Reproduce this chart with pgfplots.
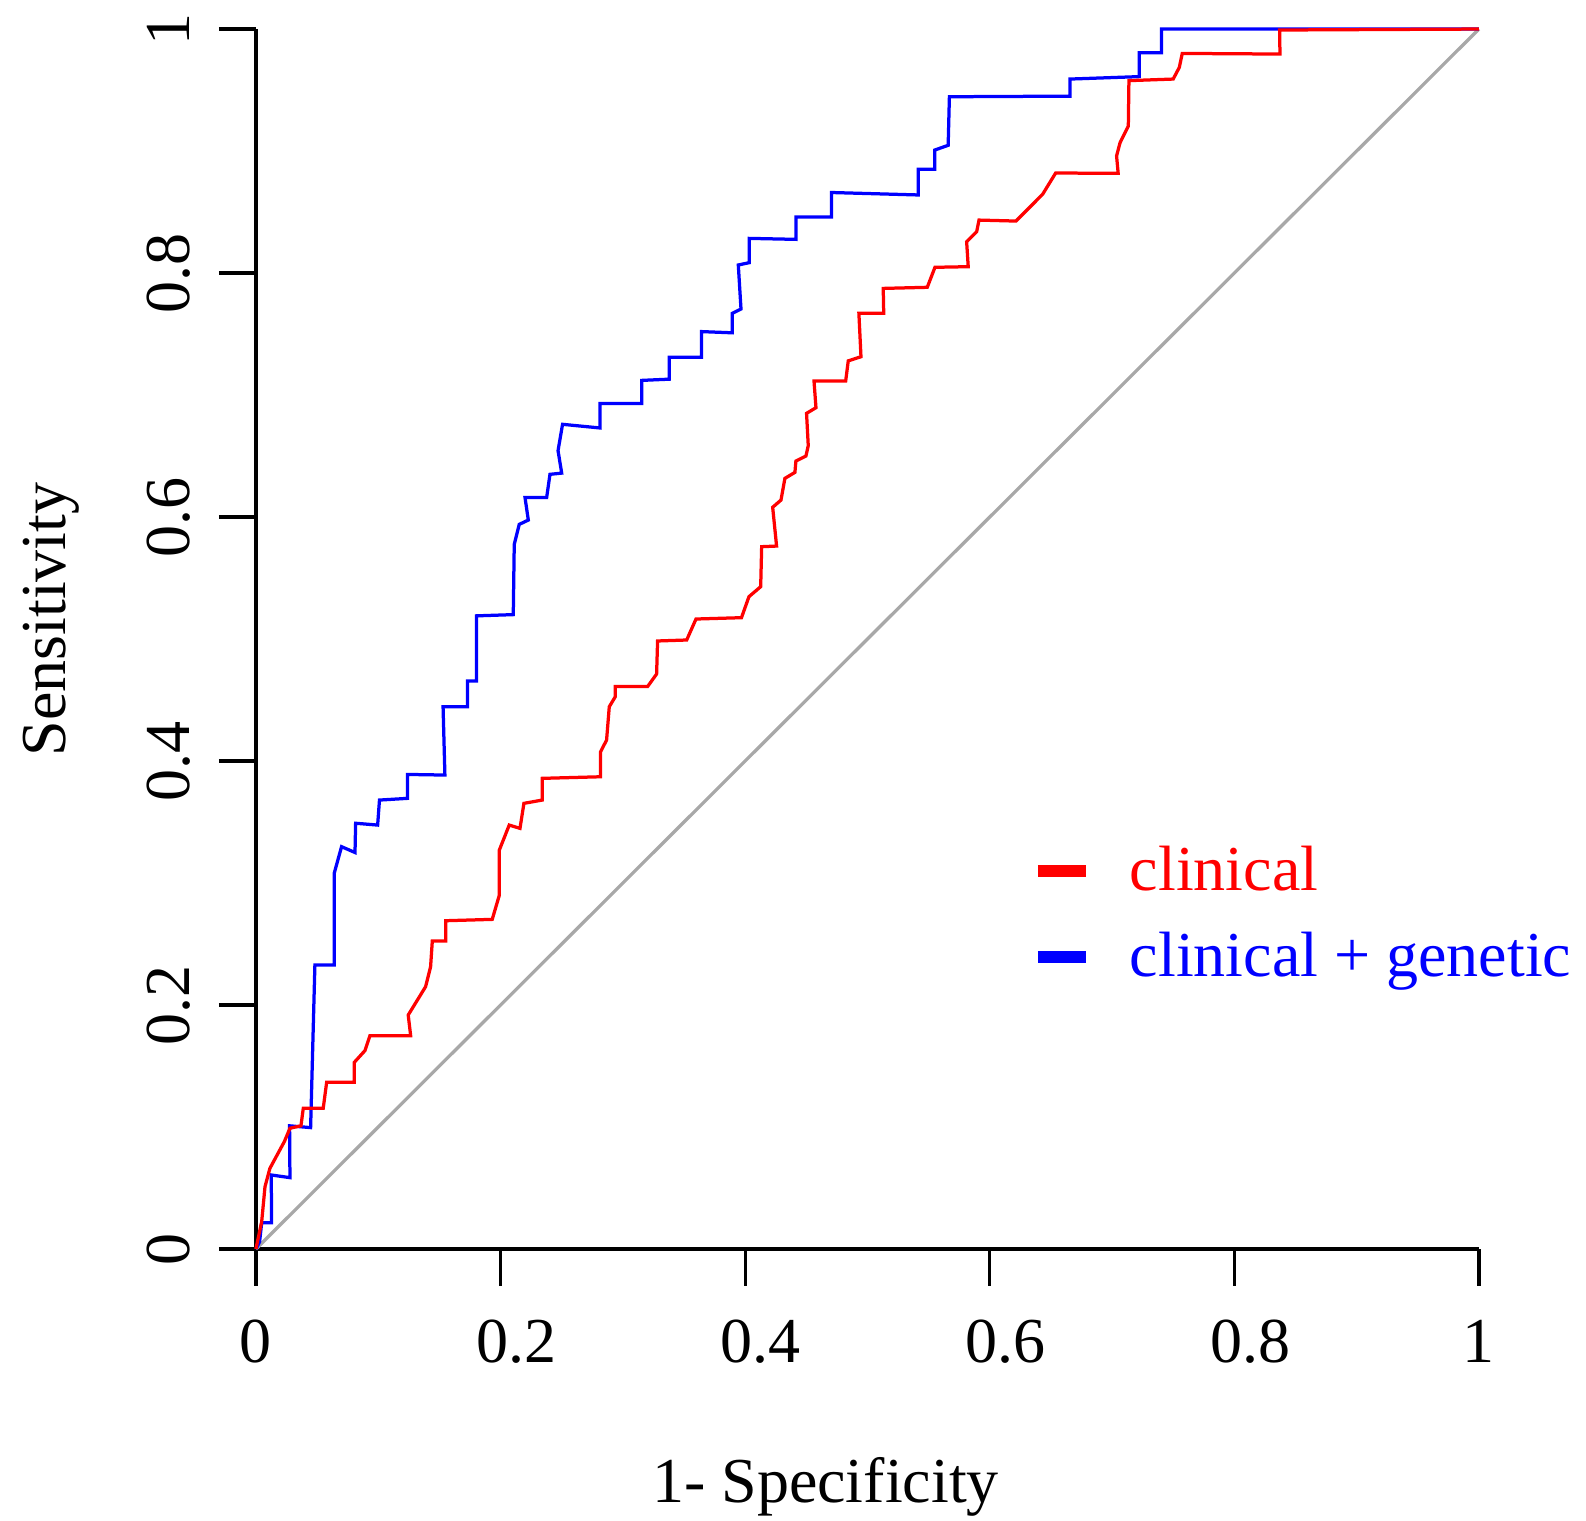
\documentclass[border=0pt]{standalone}
\usepackage{fontspec}
\setmainfont{Liberation Serif}
\usepackage{pgfplots}
\pgfplotsset{compat=1.18}
\newcommand\fs{\fontsize{13.8pt}{16pt}\selectfont}
\newcommand\sh{\hspace*{0.24cm}}
\definecolor{diag}{RGB}{168,168,168}

\pgfplotstableread{
x y
0 0
0.001 0.005
0.0047 0.0224
0.0074 0.0511
0.0114 0.0661
0.0232 0.088
0.0278 0.099
0.0368 0.101
0.0387 0.1153
0.055 0.1153
0.0578 0.1366
0.0804 0.1366
0.0804 0.153
0.0891 0.1626
0.0932 0.1749
0.1265 0.1749
0.1245 0.1918
0.1387 0.215
0.1428 0.2314
0.1442 0.2525
0.1551 0.2525
0.1551 0.2691
0.1932 0.2702
0.1990 0.290
0.1990 0.327
0.2071 0.3475
0.2159 0.3448
0.2191 0.3653
0.2341 0.368
0.2341 0.3858
0.2818 0.3871
0.2818 0.4076
0.2867 0.4172
0.2889 0.4445
0.2938 0.4527
0.2938 0.461
0.3202 0.461
0.3276 0.4713
0.3284 0.4984
0.3522 0.4992
0.3598 0.5164
0.3970 0.5175
0.4031 0.5347
0.4127 0.5429
0.4135 0.5757
0.4257 0.5762
0.4225 0.608
0.4293 0.6139
0.4325 0.6317
0.4407 0.6366
0.4415 0.6459
0.4497 0.650
0.4516 0.6585
0.4502 0.685
0.4579 0.6896
0.4563 0.7115
0.4822 0.7115
0.4843 0.728
0.4947 0.7314
0.4930 0.767
0.5133 0.767
0.5129 0.7874
0.5489 0.7883
0.5552 0.8047
0.5824 0.8052
0.5811 0.8257
0.5893 0.8339
0.5912 0.8434
0.6214 0.8426
0.6432 0.8645
0.6539 0.882
0.7050 0.8817
0.7037 0.896
0.7065 0.9067
0.7133 0.9205
0.7138 0.9577
0.7500 0.959
0.7550 0.9686
0.7574 0.980
0.8373 0.9795
0.8370 0.9992
1 1
}\clinical

\pgfplotstableread{
x y
0 0
0.003 0.006
0.0047 0.0216
0.0128 0.0216
0.0125 0.0607
0.0278 0.0585
0.0275 0.101
0.0447 0.0995
0.0482 0.2328
0.064 0.2328
0.064 0.308
0.070 0.3298
0.081 0.325
0.0815 0.349
0.0995 0.3475
0.101 0.368
0.124 0.3694
0.124 0.389
0.1545 0.3885
0.153 0.4445
0.173 0.4445
0.173 0.4656
0.1804 0.4656
0.1804 0.519
0.2104 0.520
0.2112 0.5776
0.2153 0.594
0.2227 0.5975
0.2200 0.616
0.2377 0.616
0.2404 0.635
0.2500 0.636
0.2470 0.6544
0.2507 0.676
0.2813 0.673
0.2813 0.693
0.3154 0.693
0.3154 0.712
0.3380 0.713
0.3380 0.731
0.3644 0.731
0.3644 0.752
0.3895 0.751
0.3895 0.767
0.3966 0.7705
0.3944 0.8066
0.4034 0.8085
0.4034 0.8284
0.4415 0.8276
0.4415 0.846
0.4707 0.846
0.4707 0.866
0.5415 0.864
0.5415 0.885
0.5550 0.885
0.5550 0.9008
0.5660 0.9047
0.5670 0.9445
0.6656 0.945
0.6656 0.959
0.7222 0.961
0.7222 0.9806
0.7405 0.9806
0.7405 1.0
0.8346 1.0
1 1
}\genetic

\begin{document}
\begin{tikzpicture}
\begin{axis}[
  name=ax,
  scale only axis, width=9.265cm, height=9.242cm,
  xmin=0, xmax=1, ymin=0, ymax=1,
  axis lines=left,
  axis line style={-, line width=0.7pt},
  clip=false,
  font=\fs,
  xtick={0,0.2,0.4,0.6,0.8,1},
  xticklabels={0,\sh 0.2,\sh 0.4,\sh 0.6,\sh 0.8,1},
  ytick={0,0.2,0.4,0.6,0.8,1}, yticklabels={0,0.2,0.4,0.6,0.8,1},
  tick align=outside, major tick length=0.28cm,
  tick style={black, line width=0.7pt},
  xticklabel style={anchor=base, yshift=-0.576cm},
  yticklabel style={xshift=-0.225cm, rotate=90, anchor=base},
  xlabel={1- Specificity}, ylabel={Sensitivity},
  every axis x label/.style={at={(axis description cs:0.4657,-0.208)}, anchor=base},
  every axis y label/.style={at={(axis description cs:-0.156,0.516)}, rotate=90, anchor=base},
  legend style={draw=none, fill=none, inner sep=0pt, outer sep=0pt,
    at={(axis description cs:0.6345,0.3424)}, anchor=north west,
    column sep=0.29cm, row sep=0pt,
    nodes={inner sep=0pt, text height=0.45cm, text depth=0.2cm, anchor=base west}},
  legend cell align=left,
  legend image code/.code={\draw[line width=2.6pt] (0cm,0.15cm) -- (0.36cm,0.15cm);},
]
\addlegendimage{red}
\addlegendentry{\textcolor{red}{clinical}}
\addlegendimage{blue}
\addlegendentry{\textcolor{blue}{clinical + genetic}}
% chance line
\addplot[diag, line width=0.7pt, forget plot] coordinates {(0,0) (1,1)};
\addplot[blue, line width=0.7pt, forget plot] table {\genetic};
\addplot[red, line width=0.7pt, forget plot] table {\clinical};
\end{axis}
\pgfresetboundingbox
\path[use as bounding box] ([xshift=-1.939cm,yshift=-2.053cm]ax.south west)
  rectangle ([xshift=0.811cm,yshift=0.22cm]ax.north east);
\end{tikzpicture}
\end{document}
